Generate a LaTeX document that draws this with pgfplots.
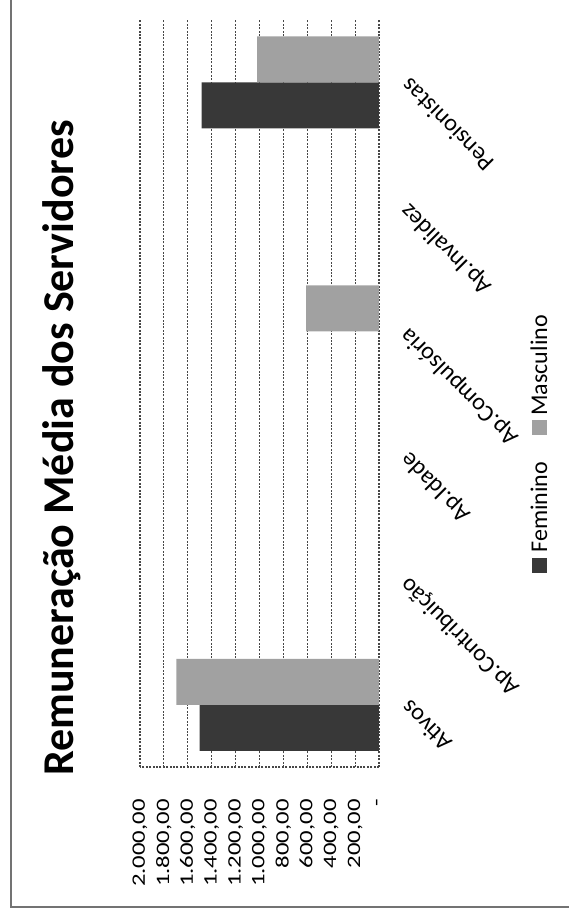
\documentclass[border=0pt]{standalone}
\usepackage{fontspec}
\setmainfont{Carlito}
\newfontfamily\tickfont{Carlito}[FakeStretch=1.3]
\usepackage{pgfplots}
\pgfplotsset{compat=1.18}

\definecolor{fem}{gray}{0.22}
\definecolor{masc}{gray}{0.63}
\definecolor{gridc}{gray}{0.28}

\begin{document}
\begin{tikzpicture}
\useasboundingbox (0,0) rectangle (284.5pt,-457.5pt);
% scanned page frame
\draw[black!55, line width=0.7pt] (5.5pt,0) -- (5.5pt,-453.5pt) -- (284.5pt,-453.5pt);
\begin{axis}[
  at={(70pt,-383.5pt)}, anchor=south west,
  scale only axis, width=119.5pt, height=373.5pt,
  xbar, bar width=23pt,
  x dir=reverse,
  xmin=0, xmax=2000,
  ymin=-0.5, ymax=5.5,
  xtick={0,200,...,2000},
  xticklabels={{-\hspace{5pt}},{200,00},{400,00},{600,00},{800,00},{1.000,00},{1.200,00},{1.400,00},{1.600,00},{1.800,00},{2.000,00}},
  ytick={0,...,5},
  yticklabels={Ativos,Ap.Contribuição,Ap.Idade,Ap.Compulsória,Ap.Invalidez,Pensionistas},
  axis x line*=bottom, axis y line*=right,
  xmajorgrids,
  major grid style={gridc, line width=0.55pt, dash pattern=on 1pt off 0.7pt},
  axis line style={gridc, line width=0.55pt, dash pattern=on 1pt off 0.7pt},
  major tick length=0pt,
  xticklabel style={rotate=90, anchor=east, inner sep=0pt, font=\tickfont\fontsize{9.5}{11}\selectfont},
  xticklabel shift=16pt,
  yticklabel style={rotate=135, anchor=east, inner sep=0pt, font=\fontsize{12}{14}\selectfont},
  yticklabel shift=13pt,
]
\addplot[fill=fem, draw=none, bar shift=-11.5pt] coordinates {(1500,0) (1485,5)};
\addplot[fill=masc, draw=none, bar shift=11.5pt] coordinates {(1695,0) (610,3) (1020,5)};
\end{axis}
% legend, turned like the rest of the scanned chart
\fill[fem] (266pt,-279pt) rectangle (273.5pt,-286.5pt);
\node[rotate=90, anchor=base west, inner sep=0pt, font=\fontsize{12}{14}\selectfont] at (273.5pt,-276.5pt) {Feminino};
\fill[masc] (266pt,-210pt) rectangle (273.5pt,-217.5pt);
\node[rotate=90, anchor=base west, inner sep=0pt, font=\fontsize{12}{14}\selectfont] at (273.5pt,-208pt) {Masculino};
\node[rotate=90, anchor=base, font=\bfseries\fontsize{22}{26}\selectfont] at (36.5pt,-224pt) {Remuneração Média dos Servidores};
\end{tikzpicture}
\end{document}
